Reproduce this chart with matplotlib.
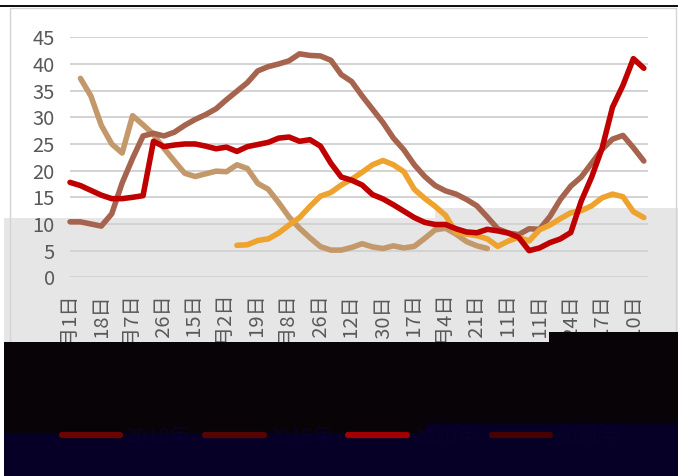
import matplotlib
matplotlib.use('Agg')
import matplotlib.pyplot as plt
from matplotlib.patches import Rectangle
import numpy as np

plt.rcParams['font.family'] = ['Noto Sans CJK SC', 'DejaVu Sans']

nan = np.nan

# tick labels (every 3rd category is labelled)
tick_labels = ['1月1日', '1月18日', '2月7日', '2月26日', '3月15日', '4月2日',
               '4月19日', '5月8日', '5月26日', '6月12日', '6月30日', '7月17日',
               '8月4日', '8月21日', '9月11日', '10月11日', '10月24日',
               '11月17日', '12月10日']
series_names = ['2018年', '2019年', '2020年', '2021年']

tan = [nan, 37.3, 34.0, 28.5, 25.0, 23.3, 30.3, 28.6, 26.8, 24.2, 21.8, 19.5,
       18.9, 19.4, 19.9, 19.8, 21.1, 20.4, 17.6, 16.5, 14.0, 11.3, 9.2, 7.4,
       5.75, 5.1, 5.1, 5.6, 6.3, 5.7, 5.4, 5.9, 5.5, 5.8, 7.3, 8.9, 9.2, 8.1,
       6.7, 5.9, 5.4] + [nan] * 15
brown = [10.4, 10.4, 10.0, 9.6, 11.9, 17.7, 22.3, 26.5, 27.0, 26.5, 27.2, 28.5,
         29.6, 30.5, 31.6, 33.3, 34.9, 36.5, 38.7, 39.5, 40.0, 40.6, 41.9, 41.6,
         41.5, 40.7, 38.0, 36.7, 34.0, 31.5, 29.0, 26.1, 23.9, 21.1, 18.9, 17.2,
         16.2, 15.6, 14.6, 13.4, 11.3, 9.1, 8.3, 8.0, 9.1, 9.0, 11.4, 14.6,
         17.1, 18.8, 21.4, 24.0, 25.9, 26.6, 24.3, 21.8]
crimson = [17.8, 17.2, 16.3, 15.4, 14.75, 14.75, 15.0, 15.3, 25.5, 24.5, 24.8,
           25.0, 25.0, 24.6, 24.1, 24.4, 23.6, 24.5, 24.9, 25.3, 26.1, 26.3,
           25.5, 25.8, 24.6, 21.4, 18.8, 18.2, 17.3, 15.5, 14.7, 13.6, 12.4,
           11.2, 10.3, 9.9, 9.9, 9.1, 8.5, 8.35, 9.0, 8.7, 8.3, 7.5, 5.0, 5.5,
           6.5, 7.2, 8.4, 14.3, 18.8, 24.2, 31.9, 36.0, 41.0, 39.2]
orange = [nan] * 16 + [6.0, 6.1, 6.9, 7.2, 8.3, 9.8, 11.2, 13.3, 15.2, 15.9,
                       17.3, 18.4, 19.7, 21.1, 21.9, 21.1, 19.8, 16.5, 14.8,
                       13.3, 11.6, 8.4, 8.1, 7.8, 7.2, 5.8, 6.8, 7.5, 6.8, 8.9,
                       9.8, 11.0, 12.1, 12.5, 13.4, 14.9, 15.6, 15.1, 12.3, 11.2]

W, H = 678, 476
fig = plt.figure(figsize=(W / 100, H / 100), dpi=100)
fig.patch.set_facecolor('white')


def frect(x0, y0, x1, y1, **kw):
    # rectangle in pixel coords (origin top-left)
    r = Rectangle((x0 / W, 1 - y1 / H), (x1 - x0) / W, (y1 - y0) / H,
                  transform=fig.transFigure, **kw)
    fig.patches.append(r)
    return r


# grey band behind the plot
frect(4, 218, 436, 345, facecolor='#e6e6e6', edgecolor='none', zorder=-3)
frect(435, 208, 678, 345, facecolor='#e6e6e6', edgecolor='none', zorder=-3)
# chart frame and top rule
frect(10, 8, 676, 470, facecolor='none', edgecolor='#d4d4d4', lw=1.0, zorder=-2)
frect(0, 5, 678, 7, facecolor='#111111', edgecolor='none', zorder=-1)

ax = fig.add_axes([70 / W, 1 - 277.3 / H, (648 - 70) / W, 240 / H])
ax.set_facecolor('none')

x = np.arange(len(crimson))
ax.plot(x, tan, color='#c3996b', lw=4, solid_capstyle='round',
        solid_joinstyle='round', clip_on=False)
ax.plot(x, brown, color='#a6644f', lw=4, solid_capstyle='round',
        solid_joinstyle='round', clip_on=False)
ax.plot(x, orange, color='#eea32e', lw=4, solid_capstyle='round',
        solid_joinstyle='round', clip_on=False)
ax.plot(x, crimson, color='#c00000', lw=4, solid_capstyle='round',
        solid_joinstyle='round', clip_on=False)
lines = ax.get_lines()

ax.set_xlim(0, 55.4)
ax.set_ylim(0, 45)
ax.set_yticks(range(0, 46, 5))
ax.set_xticks(x[::3])
ax.set_xticklabels(tick_labels, rotation=90)
ax.yaxis.grid(True, color='#d3d3d3', lw=1.4)
ax.set_axisbelow(True)
for s in ax.spines.values():
    s.set_visible(False)
ax.tick_params(axis='both', length=0, labelsize=14.5, colors='#595959')
ax.tick_params(axis='y', pad=11)
ax.tick_params(axis='x', pad=12)

# dark blocks over the lower part
frect(4, 342, 678, 434, facecolor='#080306', edgecolor='none', zorder=10)
frect(549, 332, 678, 343, facecolor='#080306', edgecolor='none', zorder=10)
frect(4, 433, 678, 476, facecolor='#060026', edgecolor='none', zorder=11)
frect(426, 423, 678, 434, facecolor='#060026', edgecolor='none', zorder=11)

leg = fig.legend([lines[0], lines[1], lines[3], lines[2]], series_names,
                 loc='center left', bbox_to_anchor=(62 / W, 1 - 437 / H),
                 ncol=4, frameon=False, fontsize=14.5, handlelength=2.9,
                 handletextpad=0.25, columnspacing=0.75, borderpad=0,
                 borderaxespad=0)
leg.set_zorder(20)
for h, c in zip(leg.get_lines(), ['#6b0303', '#560303', '#a00000', '#460202']):
    h.set_color(c)
    h.set_linewidth(4.5)
    h.set_solid_capstyle('round')
for t in leg.get_texts():
    t.set_color('#0a0330')
    t.set_alpha(0.6)

fig.savefig('out.png', dpi=100)
